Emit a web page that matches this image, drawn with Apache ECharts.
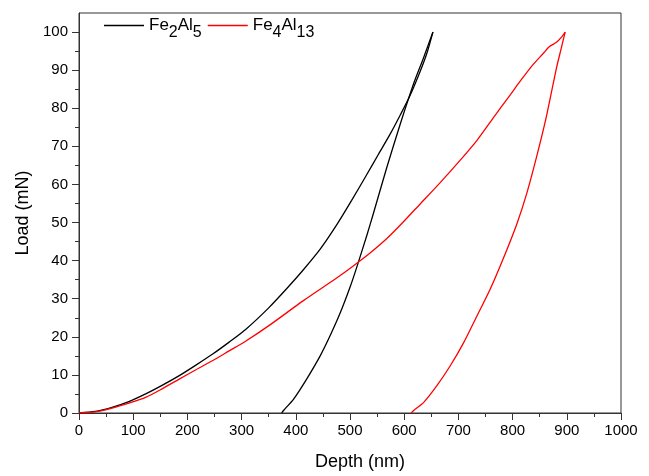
<!DOCTYPE html>
<html>
<head>
<meta charset="utf-8">
<script src="https://cdn.jsdelivr.net/npm/echarts@6/dist/echarts.min.js"></script>
<style>html,body{margin:0;padding:0;background:#fff;}#c{width:649px;height:476px;}</style>
</head>
<body>
<div id="c"></div>
<script>
// Fe2Al5 (depth nm, load mN)
const fe2LoadDepth = [0,30,61,92,123,154,185,215,246,277,308,350,383,414,445,476,503,531,552,574,593,611,629,642,653];
const fe2LoadLoad  = [0,0.4,1.5,3.0,5.0,7.3,9.8,12.5,15.4,18.6,22.0,27.6,32.6,37.6,43.0,49.5,55.8,62.6,67.8,73.2,78.3,83.4,89.5,94.5,100];
const fe2UnloadDepth = [653,635.6,617,592.6,568,543,531,513,500,482,463,445,420,396,377,374];
const fe2UnloadLoad  = [100,93.2,86.3,75.8,64.5,52.3,46.6,38.5,33.0,26.3,20.2,15.0,8.9,3.65,0.6,0];
// Fe4Al13
const fe4LoadDepth = [0,30,61,92,123,154,185,215,246,277,308,353,414,476,506,537,568,596,629,666,703,734,765,796,814,838,856,868,881,891,897];
const fe4LoadLoad  = [0,0.3,1.3,2.6,4.1,6.4,8.9,11.3,13.7,16.3,18.9,23.2,29.5,35.5,38.6,42.0,45.8,49.8,54.8,60.4,66.3,71.5,77.6,83.6,87.1,91.5,94.3,96.2,97.3,98.8,100];
const fe4UnloadDepth = [897,889,881,862,844,826,808,783,759,734,709.5,685,660,636,617,613];
const fe4UnloadLoad  = [100,95.3,90.6,77.6,67.1,57.6,49.7,40.6,32.6,25.4,18.4,12.4,7.1,2.8,0.6,0];

const xTicks = [0,100,200,300,400,500,600,700,800,900,1000];
const yTicks = [0,10,20,30,40,50,60,70,80,90,100];
const yMinorTicks = [5,15,25,35,45,55,65,75,85,95];
const seriesNames = ['Fe2Al5', 'Fe4Al13'];
const seriesColors = ['#000000', '#ff0000'];
const legendRich = {
  'Fe2Al5': '{n|Fe}{s|2}{n|Al}{s|5}',
  'Fe4Al13': '{n|Fe}{s|4}{n|Al}{s|13}'
};

function pairs(xs, ys) { return xs.map((x, i) => [x, ys[i]]); }
function curve(name, color, xs, ys) {
  return {name: name, type: 'line', data: pairs(xs, ys), showSymbol: false, symbol: 'none',
    smooth: 0.25, lineStyle: {color: color, width: 1.3}, itemStyle: {color: color}};
}

const font = 'Liberation Sans, Arial, sans-serif';
const axisColor = '#333';
const chart = echarts.init(document.getElementById('c'), null, {renderer: 'canvas'});
chart.setOption({
  animation: false,
  backgroundColor: '#fff',
  textStyle: {fontFamily: font},
  grid: {left: 79, right: 28, top: 13, bottom: 60, show: true, borderColor: axisColor, borderWidth: 1, backgroundColor: 'transparent'},
  legend: {
    left: 99, top: 12, itemWidth: 40, itemHeight: 1.5, itemGap: 6, icon: 'rect',
    data: seriesNames,
    formatter: name => legendRich[name],
    textStyle: {
      color: '#000',
      rich: {
        n: {fontSize: 17, color: '#000', fontFamily: font},
        s: {fontSize: 16, color: '#000', padding: [14, 0, 0, 0], fontFamily: font}
      }
    }
  },
  xAxis: {
    type: 'value', min: 0, max: 1000, interval: 100,
    name: 'Depth (nm)', nameLocation: 'middle', nameGap: 40,
    nameTextStyle: {fontSize: 18, color: '#000', padding: [0, 0, 0, 20]},
    axisLine: {show: true, onZero: false, lineStyle: {color: axisColor, width: 1}},
    axisTick: {show: true, inside: false, length: 7, lineStyle: {color: axisColor}, customValues: xTicks},
    minorTick: {show: true, splitNumber: 2, length: 4, lineStyle: {color: axisColor}},
    axisLabel: {fontSize: 15, color: '#000', margin: 10, customValues: xTicks, formatter: v => String(v)},
    splitLine: {show: false}
  },
  yAxis: [{
    type: 'value', min: 0, max: 105, interval: 10,
    name: 'Load (mN)', nameLocation: 'middle', nameGap: 43,
    nameTextStyle: {fontSize: 18, color: '#000'},
    axisLine: {show: true, onZero: false, lineStyle: {color: axisColor, width: 1}},
    axisTick: {show: true, inside: false, length: 7, lineStyle: {color: axisColor}, customValues: yTicks},
    axisLabel: {fontSize: 15, color: '#000', margin: 11, customValues: yTicks, formatter: v => String(v)},
    splitLine: {show: false}
  }, {
    type: 'value', min: 0, max: 105, position: 'left', offset: 0,
    axisLine: {show: false},
    axisTick: {show: true, inside: false, length: 4, lineStyle: {color: axisColor}, customValues: yMinorTicks},
    axisLabel: {show: false},
    splitLine: {show: false}
  }],
  series: [
    curve(seriesNames[0], seriesColors[0], fe2LoadDepth, fe2LoadLoad),
    curve(seriesNames[0], seriesColors[0], fe2UnloadDepth, fe2UnloadLoad),
    curve(seriesNames[1], seriesColors[1], fe4LoadDepth, fe4LoadLoad),
    curve(seriesNames[1], seriesColors[1], fe4UnloadDepth, fe4UnloadLoad)
  ]
});
</script>
</body>
</html>
